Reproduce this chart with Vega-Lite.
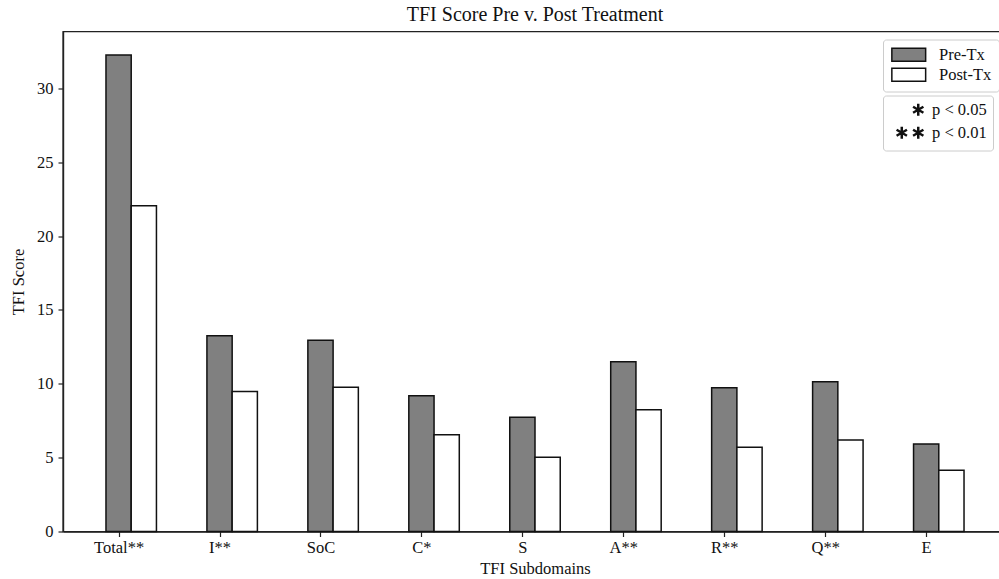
{
  "$schema": "https://vega.github.io/schema/vega-lite/v6.json",
  "autosize": "none",
  "padding": {"left": 63, "top": 31.5, "right": 0, "bottom": 47.5},
  "width": 944,
  "height": 500,
  "background": "white",
  "config": {
    "font": "Liberation Serif",
    "view": {"stroke": "#222", "strokeWidth": 1.4},
    "axis": {"domainColor": "#222", "domainWidth": 1.4, "tickColor": "#222", "tickWidth": 1.2, "tickSize": 5, "labelColor": "#111", "titleColor": "#111", "labelFontSize": 16.5, "titleFontSize": 16.5, "titleFontWeight": "normal", "labelFont": "Liberation Serif", "titleFont": "Liberation Serif", "grid": false},
    "legend": {"labelFont": "Liberation Serif", "labelFontSize": 16.5, "labelColor": "#111", "layout": {"top-right": {"direction": "vertical", "margin": 4}}}
  },
  "title": {"text": "TFI Score Pre v. Post Treatment", "fontSize": 20, "fontWeight": "normal", "color": "#111", "font": "Liberation Serif", "anchor": "middle", "offset": 7},
  "layer": [
    {
      "data": {"values": [
        {"cat": "Total**", "series": "Pre-Tx", "score": 32.26},
        {"cat": "Total**", "series": "Post-Tx", "score": 22.06},
        {"cat": "I**", "series": "Pre-Tx", "score": 13.26},
        {"cat": "I**", "series": "Post-Tx", "score": 9.47},
        {"cat": "SoC", "series": "Pre-Tx", "score": 12.95},
        {"cat": "SoC", "series": "Post-Tx", "score": 9.76},
        {"cat": "C*", "series": "Pre-Tx", "score": 9.19},
        {"cat": "C*", "series": "Post-Tx", "score": 6.55},
        {"cat": "S", "series": "Pre-Tx", "score": 7.73},
        {"cat": "S", "series": "Post-Tx", "score": 5.02},
        {"cat": "A**", "series": "Pre-Tx", "score": 11.5},
        {"cat": "A**", "series": "Post-Tx", "score": 8.25},
        {"cat": "R**", "series": "Pre-Tx", "score": 9.74},
        {"cat": "R**", "series": "Post-Tx", "score": 5.7},
        {"cat": "Q**", "series": "Pre-Tx", "score": 10.14},
        {"cat": "Q**", "series": "Post-Tx", "score": 6.2},
        {"cat": "E", "series": "Pre-Tx", "score": 5.92},
        {"cat": "E", "series": "Post-Tx", "score": 4.14}
      ]},
      "mark": {"type": "bar", "stroke": "#111", "strokeWidth": 1.5},
      "encoding": {
        "x": {"field": "cat", "type": "nominal", "sort": ["Total**", "I**", "SoC", "C*", "S", "A**", "R**", "Q**", "E"],
          "scale": {"paddingInner": 0.5, "paddingOuter": 0.4257},
          "axis": {"title": "TFI Subdomains", "labelAngle": 0, "tickOffset": -12.62, "labelPadding": 3, "titlePadding": 4}},
        "xOffset": {"field": "series", "type": "nominal", "sort": ["Pre-Tx", "Post-Tx"], "scale": {"paddingInner": 0, "paddingOuter": 0}},
        "y": {"field": "score", "type": "quantitative", "scale": {"domain": [0, 33.85], "nice": false},
          "axis": {"title": "TFI Score", "values": [0, 5, 10, 15, 20, 25, 30], "labelPadding": 5, "titlePadding": 10}},
        "color": {"field": "series", "type": "nominal", "sort": ["Pre-Tx", "Post-Tx"],
          "scale": {"domain": ["Pre-Tx", "Post-Tx"], "range": ["#808080", "#ffffff"]},
          "legend": {"title": null, "orient": "top-right", "offset": 8, "symbolType": "M-2.6,-1H2.6V1H-2.6Z", "symbolSize": 169, "symbolOffset": 10.5, "symbolStrokeColor": "#111", "symbolStrokeWidth": 1.5, "symbolOpacity": 1, "strokeColor": "#cccccc", "cornerRadius": 3, "padding": 7, "labelOffset": 22, "rowPadding": 0, "fillColor": "white"}}
      }
    },
    {
      "data": {"values": [
        {"sig": "p < 0.05"},
        {"sig": "p < 0.01"}
      ]},
      "mark": {"type": "point", "opacity": 0, "filled": false},
      "encoding": {
        "shape": {"field": "sig", "type": "nominal", "sort": ["p < 0.05", "p < 0.01"],
          "scale": {"domain": ["p < 0.05", "p < 0.01"], "range": ["M1.615,-0.92V0.92M0.82,-0.46L2.41,0.46M0.82,0.46L2.41,-0.46", "M-0.92,-0.92V0.92M-1.717,-0.46L-0.123,0.46M-1.717,0.46L-0.123,-0.46M1.615,-0.92V0.92M0.82,-0.46L2.41,0.46M0.82,0.46L2.41,-0.46"]},
          "legend": {"title": null, "orient": "top-right", "offset": 8, "symbolSize": 169, "symbolOffset": 10.5, "symbolStrokeColor": "#111", "symbolFillColor": "transparent", "symbolStrokeWidth": 2.5, "symbolOpacity": 1, "strokeColor": "#cccccc", "cornerRadius": 3, "padding": 6, "labelOffset": 16, "rowPadding": 0, "fillColor": "white"}}
      }
    }
  ]
}
